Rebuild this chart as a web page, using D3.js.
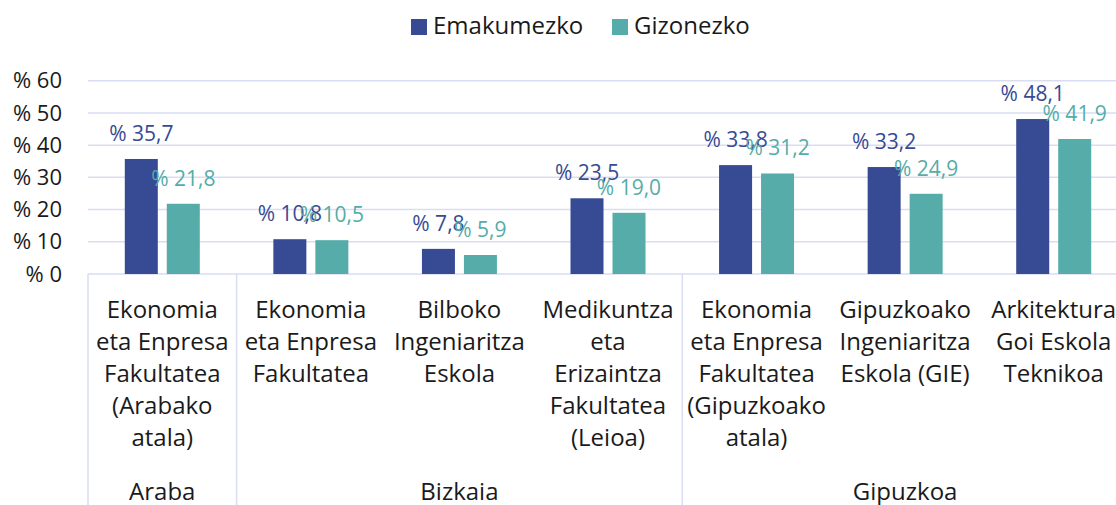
<!DOCTYPE html>
<html>
<head>
<meta charset="utf-8">
<script src="https://cdn.jsdelivr.net/npm/d3@7"></script>
<style>
  body { margin: 0; background: #fff; }
  svg { font-family: "Open Sans", sans-serif; display: block; }
</style>
</head>
<body>
<svg id="chart" width="1116" height="505"></svg>
<script>
// chart data
var series = ["Emakumezko", "Gizonezko"];
var colors = ["#374a94", "#56aca8"];
var categories = [
    ["Ekonomia", "eta Enpresa", "Fakultatea", "(Arabako", "atala)"],
    ["Ekonomia", "eta Enpresa", "Fakultatea"],
    ["Bilboko", "Ingeniaritza", "Eskola"],
    ["Medikuntza", "eta", "Erizaintza", "Fakultatea", "(Leioa)"],
    ["Ekonomia", "eta Enpresa", "Fakultatea", "(Gipuzkoako", "atala)"],
    ["Gipuzkoako", "Ingeniaritza", "Eskola (GIE)"],
    ["Arkitektura", "Goi Eskola", "Teknikoa"]
];
var groups = ["Araba", "Bizkaia", "Bizkaia", "Bizkaia", "Gipuzkoa", "Gipuzkoa", "Gipuzkoa"];
var women = [35.7, 10.8, 7.8, 23.5, 33.8, 33.2, 48.1];
var men = [21.8, 10.5, 5.9, 19.0, 31.2, 24.9, 41.9];
var yTicks = [0, 10, 20, 30, 40, 50, 60];

var svg = d3.select('#chart');
var gridColor = '#d9ddf2';
var textColor = '#1a1a1a';

var xScale = d3.scaleBand()
    .domain(d3.range(categories.length))
    .range([88, 1128]);
var xInner = d3.scaleBand()
    .domain(series)
    .range([0, 75])
    .paddingInner(0.214);
var yScale = d3.scaleLinear()
    .domain([0, 60])
    .range([274, 80.7]);

var fmt = function(v) { return '% ' + d3.format('.1f')(v).replace('.', ','); };

// gridlines
svg.append('g')
    .selectAll('line')
    .data(yTicks)
    .enter()
    .append('line')
    .attr('x1', 88)
    .attr('x2', 1116)
    .attr('y1', function(d) { return yScale(d); })
    .attr('y2', function(d) { return yScale(d); })
    .attr('stroke', gridColor)
    .attr('stroke-width', 1.5);

// y axis labels
svg.append('g')
    .selectAll('text')
    .data(yTicks)
    .enter()
    .append('text')
    .attr('x', 62)
    .attr('y', function(d) { return yScale(d); })
    .attr('dy', '0.35em')
    .attr('text-anchor', 'end')
    .attr('fill', textColor)
    .style('font-size', '22px')
    .text(function(d) { return '% ' + d; });

// bars
var rows = categories.map(function(c, i) {
    return [{s: 0, v: women[i], i: i}, {s: 1, v: men[i], i: i}];
});
var catG = svg.append('g')
    .selectAll('g')
    .data(rows)
    .enter()
    .append('g')
    .attr('transform', function(d, i) {
        return 'translate(' + (xScale(i) + xScale.bandwidth() / 2 - 37.5) + ',0)';
    });

catG.selectAll('rect')
    .data(function(d) { return d; })
    .enter()
    .append('rect')
    .attr('x', function(d) { return xInner(series[d.s]); })
    .attr('width', xInner.bandwidth())
    .attr('y', function(d) { return yScale(d.v); })
    .attr('height', function(d) { return yScale(0) - yScale(d.v); })
    .attr('fill', function(d) { return colors[d.s]; });

catG.selectAll('text')
    .data(function(d) { return d; })
    .enter()
    .append('text')
    .attr('x', function(d) { return xInner(series[d.s]) + xInner.bandwidth() / 2; })
    .attr('y', function(d) { return yScale(d.v) - 18; })
    .attr('text-anchor', 'middle')
    .attr('fill', function(d) { return colors[d.s]; })
    .style('font-size', '21px')
    .text(function(d) { return fmt(d.v); });

// category labels
var labelG = svg.append('g')
    .selectAll('text')
    .data(categories)
    .enter()
    .append('text')
    .attr('text-anchor', 'middle')
    .attr('fill', textColor)
    .style('font-size', '24px');
labelG.selectAll('tspan')
    .data(function(d, i) { return d.map(function(t) { return {t: t, i: i}; }); })
    .enter()
    .append('tspan')
    .attr('x', function(d) { return xScale(d.i) + xScale.bandwidth() / 2; })
    .attr('y', function(d, j) { return 318 + j * 32; })
    .text(function(d) { return d.t; });

// group labels and separators
var groupNames = Array.from(new Set(groups));
var groupSpans = groupNames.map(function(g) {
    var idx = groups.map(function(x, i) { return x === g ? i : -1; }).filter(function(i) { return i >= 0; });
    return {name: g, x0: xScale(idx[0]), x1: xScale(idx[idx.length - 1]) + xScale.bandwidth()};
});

svg.append('g')
    .selectAll('line')
    .data(groupSpans)
    .enter()
    .append('line')
    .attr('x1', function(d) { return d.x0; })
    .attr('x2', function(d) { return d.x0; })
    .attr('y1', yScale(0))
    .attr('y2', 505)
    .attr('stroke', gridColor)
    .attr('stroke-width', 1.5);

svg.append('g')
    .selectAll('text')
    .data(groupSpans)
    .enter()
    .append('text')
    .attr('x', function(d) { return (d.x0 + d.x1) / 2; })
    .attr('y', 500)
    .attr('text-anchor', 'middle')
    .attr('fill', textColor)
    .style('font-size', '24px')
    .text(function(d) { return d.name; });

// legend
var legendX = [411, 612];
var legend = svg.append('g')
    .selectAll('g')
    .data(series)
    .enter()
    .append('g')
    .attr('transform', function(d, i) { return 'translate(' + legendX[i] + ',19)'; });
legend.append('rect')
    .attr('width', 16)
    .attr('height', 16)
    .attr('fill', function(d, i) { return colors[i]; });
legend.append('text')
    .attr('x', 22)
    .attr('y', 15)
    .attr('fill', textColor)
    .style('font-size', '24px')
    .text(function(d) { return d; });
</script>
</body>
</html>
